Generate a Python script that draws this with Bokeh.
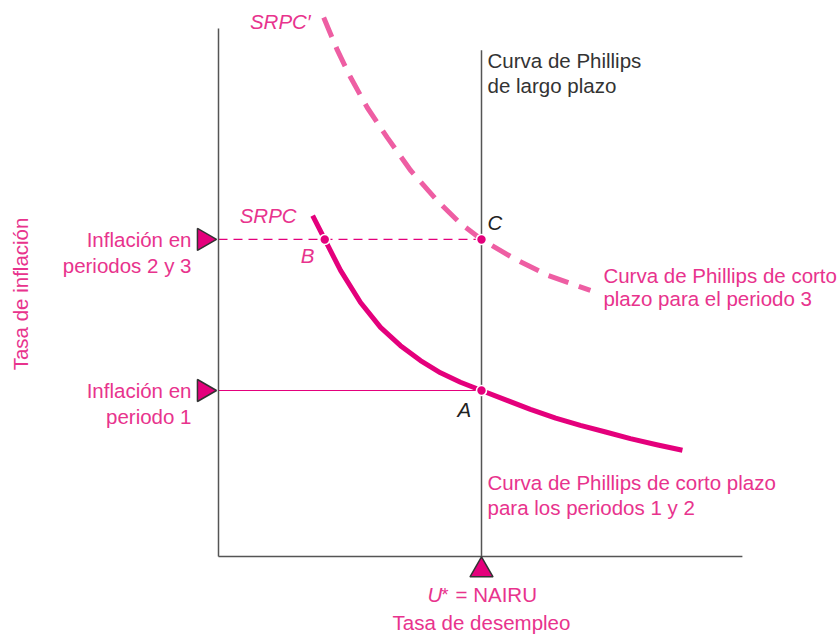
from bokeh.plotting import figure
from bokeh.models import Range1d
from bokeh.core.properties import value
from bokeh.embed import file_html
from bokeh.resources import INLINE
import math

# ---------------- data ----------------
# short-run Phillips curve, periods 1 and 2 (unemployment, inflation)
srpc_u = [1.79, 2.02, 2.32, 2.70, 3.08, 3.46, 3.84, 4.22, 4.60, 5.00,
          5.46, 5.93, 6.41, 6.88, 7.36, 7.83, 8.33, 8.82]
srpc_pi = [6.16, 5.73, 5.17, 4.59, 4.14, 3.81, 3.54, 3.32, 3.15, 3.00,
           2.83, 2.66, 2.50, 2.37, 2.25, 2.13, 2.02, 1.92]
# short-run Phillips curve, period 3 (SRPC')
srpc3_u = [2.00, 2.26, 2.51, 2.83, 3.21, 3.65, 4.16, 4.60, 5.00, 5.61, 6.26, 7.07]
srpc3_pi = [9.74, 9.15, 8.66, 8.11, 7.57, 6.98, 6.43, 6.02, 5.73, 5.39, 5.08, 4.81]

nairu = 5.0
infl_1 = 3.0
infl_23 = 5.73

point_names = ["A", "B", "C"]
point_u = [5.0, 2.02, 5.0]
point_pi = [3.0, 5.73, 5.73]

u_axis_max = 9.96
pi_axis_max = 9.54
lrpc_top = 9.15

infl_labels = [["Inflación en", "periodos 2 y 3"], ["Inflación en", "periodo 1"]]
infl_levels = [infl_23, infl_1]

# ---------------- layout / style ----------------
W, H = 838, 634
PX_U = 52.6      # pixels per unemployment unit
PX_PI = 55.333   # pixels per inflation unit
ORIGIN_X, ORIGIN_Y = 218, 556   # origin position inside the figure (pixels)
SHIFT = -8       # baseline correction for text placement

FONT = "Liberation Sans"
FS = "20.5px"
MAG = "#E4007C"
MAG_LIGHT = "#EE5EA3"
TXT_PINK = "#E8338D"
GRAY = "#555555"
DARK = "#333333"

p = figure(width=W, height=H, output_backend="svg", toolbar_location=None,
           x_axis_location=None, y_axis_location=None, min_border=0,
           x_range=Range1d(-ORIGIN_X / PX_U, (W - ORIGIN_X) / PX_U),
           y_range=Range1d(-(H - ORIGIN_Y) / PX_PI, ORIGIN_Y / PX_PI))
p.outline_line_color = None
p.grid.visible = False
p.background_fill_color = "white"
p.border_fill_color = "white"

# reference lines from the inflation levels to LRPC
p.segment(x0=[0], y0=[infl_1], x1=[nairu], y1=[infl_1], line_color=MAG, line_width=1.2)
p.segment(x0=[0], y0=[infl_23], x1=[nairu], y1=[infl_23], line_color=MAG, line_width=1.2,
          line_dash="9 6")

# axes
p.segment(x0=[0, 0], y0=[0, 0], x1=[0, u_axis_max], y1=[pi_axis_max, 0],
          line_color=GRAY, line_width=1.5)
# long-run Phillips curve
p.segment(x0=[nairu], y0=[0], x1=[nairu], y1=[lrpc_top], line_color=GRAY, line_width=1.5)

# curves
p.line(srpc3_u, srpc3_pi, line_color=MAG_LIGHT, line_width=5, line_dash="21 11",
       line_join="round")
p.line(srpc_u, srpc_pi, line_color=MAG, line_width=5, line_join="round")

# points
p.scatter(point_u, point_pi, size=10, fill_color=MAG, line_color="white", line_width=1.6)

# triangle markers
tri_off_x = -14.7 / PX_U
tri_off_y = -13.7 / PX_PI
p.scatter([tri_off_x] * len(infl_levels), infl_levels, marker="triangle", size=22,
          angle=-math.pi / 2, fill_color=MAG, line_color=DARK, line_width=1.5)
p.scatter([nairu], [tri_off_y], marker="triangle", size=23,
          fill_color=MAG, line_color=DARK, line_width=1.5)


def txt(x, y, s, dx=0, dy=0, color=TXT_PINK, align="left", style="normal",
        size=FS, angle=0.0):
    if angle:
        dx += SHIFT
    else:
        dy += SHIFT
    p.text(x=[x], y=[y], text=[s], x_offset=dx, y_offset=dy, angle=angle,
           text_font=value(FONT), text_font_size=size, text_font_style=style,
           text_color=color, text_align=align, text_baseline="alphabetic")


# inflation labels
for lines, lvl in zip(infl_labels, infl_levels):
    txt(0, lvl, lines[0], dx=-27, dy=8, align="right")
    txt(0, lvl, lines[1], dx=-27, dy=34, align="right")

# y axis title
txt(0, (infl_1 + infl_23) / 2, "Tasa de inflación", dx=-190, dy=-21, align="center",
    angle=math.pi / 2)

# curve labels
txt(srpc_u[0], srpc_pi[0], "SRPC", dx=-16, dy=8, align="right", style="italic")
txt(srpc3_u[0], srpc3_pi[0], "SRPC\u2032", dx=-13, dy=12, align="right", style="italic")

# point labels
txt(point_u[0], point_pi[0], point_names[0], dx=-24, dy=27, color="#222222", style="italic")
txt(point_u[1], point_pi[1], point_names[1], dx=-24, dy=24, style="italic")
txt(point_u[2], point_pi[2], point_names[2], dx=6, dy=-9, color="#222222", style="italic")

# LRPC label
txt(nairu, lrpc_top, "Curva de Phillips", dx=6, dy=18, color=DARK)
txt(nairu, lrpc_top, "de largo plazo", dx=6, dy=43, color=DARK)

# SRPC' label
txt(srpc3_u[-1], srpc3_pi[-1], "Curva de Phillips de corto", dx=13, dy=-7)
txt(srpc3_u[-1], srpc3_pi[-1], "plazo para el periodo 3", dx=13, dy=16)

# SRPC label
txt(nairu, 0, "Curva de Phillips de corto plazo", dx=6, dy=-66)
txt(nairu, 0, "para los periodos 1 y 2", dx=6, dy=-41)

# x axis labels
txt(nairu, 0, "U", dx=-54, dy=46, style="italic")
txt(nairu, 0, "*", dx=-40, dy=46, size="18px")
txt(nairu, 0, "= NAIRU", dx=-26, dy=46)
txt(nairu, 0, "Tasa de desempleo", dx=0, dy=74, align="center")

open("out.html", "w").write(file_html(p, INLINE))
